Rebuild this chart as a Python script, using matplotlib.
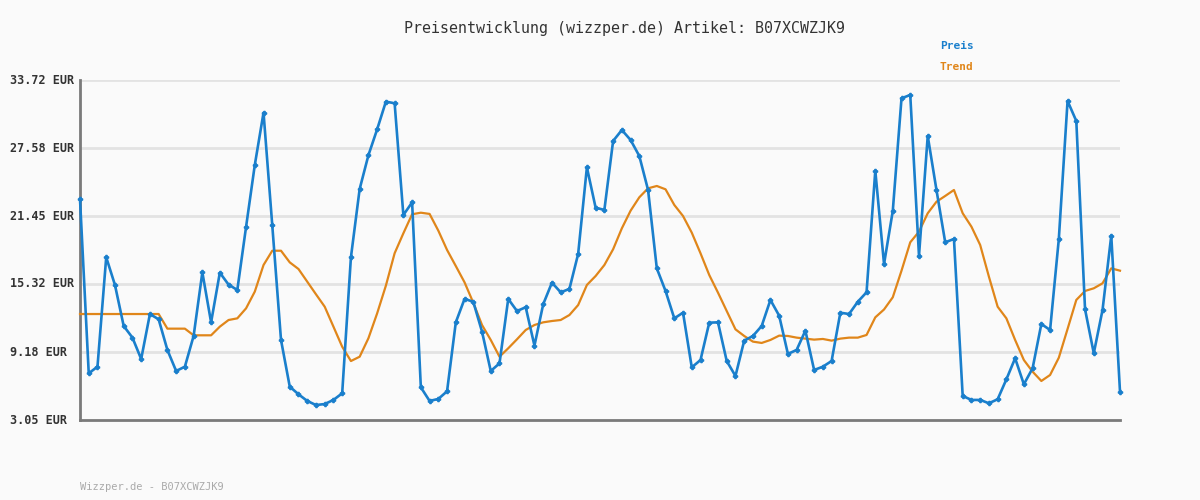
import matplotlib
matplotlib.use("Agg")
import matplotlib.pyplot as plt
import numpy as np

# price series (EUR)
preis = [22.99, 7.26, 7.86, 17.73, 15.23, 11.53, 10.48, 8.55, 12.61, 12.13,
         9.37, 7.47, 7.86, 10.63, 16.37, 11.86, 16.34, 15.26, 14.78, 20.46,
         26.05, 30.77, 20.61, 10.27, 6.06, 5.37, 4.77, 4.40, 4.49, 4.86,
         5.46, 17.73, 23.89, 26.93, 29.27, 31.77, 31.62, 21.54, 22.68, 6.00,
         4.77, 4.95, 5.64, 11.86, 13.97, 13.72, 11.02, 7.47, 8.16, 13.97,
         12.88, 13.22, 9.76, 13.49, 15.44, 14.57, 14.87, 18.03, 25.84, 22.20,
         22.00, 28.22, 29.21, 28.31, 26.86, 23.80, 16.73, 14.69, 12.22, 12.73,
         7.80, 8.46, 11.83, 11.86, 8.37, 7.02, 10.21, 10.63, 11.53, 13.88,
         12.46, 9.01, 9.37, 11.11, 7.56, 7.86, 8.37, 12.73, 12.61, 13.72,
         14.57, 25.54, 17.12, 21.90, 32.07, 32.37, 17.87, 28.67, 23.80, 19.08,
         19.38, 5.22, 4.86, 4.86, 4.56, 4.92, 6.72, 8.62, 6.27, 7.72,
         11.71, 11.17, 19.38, 31.83, 30.02, 13.04, 9.07, 12.97, 19.68, 5.61]

trend = [12.61, 12.61, 12.61, 12.61, 12.61, 12.61, 12.61, 12.61, 12.61, 12.61,
         11.29, 11.29, 11.29, 10.69, 10.69, 10.69, 11.47, 12.07, 12.22, 13.12,
         14.63, 17.03, 18.32, 18.32, 17.27, 16.67, 15.53, 14.39, 13.27, 11.47,
         9.66, 8.37, 8.76, 10.42, 12.67, 15.17, 18.09, 19.89, 21.61, 21.75,
         21.64, 20.13, 18.39, 16.94, 15.47, 13.63, 11.62, 10.27, 8.76, 9.52,
         10.33, 11.17, 11.62, 11.86, 11.98, 12.07, 12.52, 13.42, 15.23, 16.04,
         17.03, 18.45, 20.34, 21.93, 23.14, 23.95, 24.16, 23.86, 22.45, 21.45,
         19.95, 18.09, 16.13, 14.54, 12.88, 11.23, 10.63, 10.12, 10.00, 10.27,
         10.66, 10.63, 10.48, 10.39, 10.30, 10.36, 10.21, 10.39, 10.48, 10.48,
         10.72, 12.31, 13.02, 14.12, 16.52, 19.08, 20.04, 21.70, 22.74, 23.26,
         23.80, 21.70, 20.49, 18.84, 15.98, 13.27, 12.22, 10.27, 8.46, 7.41,
         6.57, 7.11, 8.67, 11.26, 13.88, 14.69, 14.93, 15.38, 16.73, 16.52]

yticks = [3.05, 9.18, 15.32, 21.45, 27.58, 33.72]
ylabels = ["3.05 EUR", "9.18 EUR", "15.32 EUR", "21.45 EUR", "27.58 EUR", "33.72 EUR"]

artikel = "B07XCWZJK9"
blau = "#1a7fcc"
orange = "#e0861a"
bg = "#fafafa"
mono = "DejaVu Sans Mono"

fig = plt.figure(figsize=(12, 5), dpi=100, facecolor=bg)
ax = fig.add_axes([80/1200, 80/500, 1040/1200, 340/500], facecolor=bg)

x = np.arange(len(preis))
ax.plot(x, trend, color=orange, lw=1.6, zorder=3, clip_on=False)
ax.plot(x, preis, color=blau, lw=1.9, marker="P", ms=3, mec=blau, zorder=4,
        clip_on=False)

ax.set_xlim(0, len(preis) - 1)
ax.set_ylim(yticks[0], yticks[-1])
ax.set_xticks([])
ax.set_yticks(yticks)
ax.set_yticklabels([])
ax.tick_params(axis="y", length=0)
for t in yticks[1:]:
    ax.axhline(t, color="#e3e3e3", lw=2, zorder=1)

for s in ("top", "right"):
    ax.spines[s].set_visible(False)
for s in ("left", "bottom"):
    ax.spines[s].set_color("#7a7a7a")
    ax.spines[s].set_linewidth(2)

# y labels left aligned at x=10 px
for t, lab in zip(yticks, ylabels):
    yp = 1 - (80 + (yticks[-1] - t) / (yticks[-1] - yticks[0]) * 340) / 500
    fig.text(10/1200, yp, lab, ha="left", va="center", fontsize=8.5,
             fontweight="bold", family=mono, color="#333333")

fig.text(624/1200, 1 - 28/500, "Preisentwicklung (wizzper.de) Artikel: " + artikel,
         ha="center", va="center", fontsize=10.8, family=mono, color="#333333")
fig.text(940/1200, 1 - 46/500, "Preis", ha="left", va="center", fontsize=8,
         fontweight="bold", family=mono, color=blau)
fig.text(940/1200, 1 - 67/500, "Trend", ha="left", va="center", fontsize=8,
         fontweight="bold", family=mono, color=orange)
fig.text(80/1200, 1 - 487/500, "Wizzper.de - " + artikel, ha="left", va="center",
         fontsize=7.5, family=mono, color="#aaaaaa")

fig.savefig("out.png", dpi=100, facecolor=bg)
